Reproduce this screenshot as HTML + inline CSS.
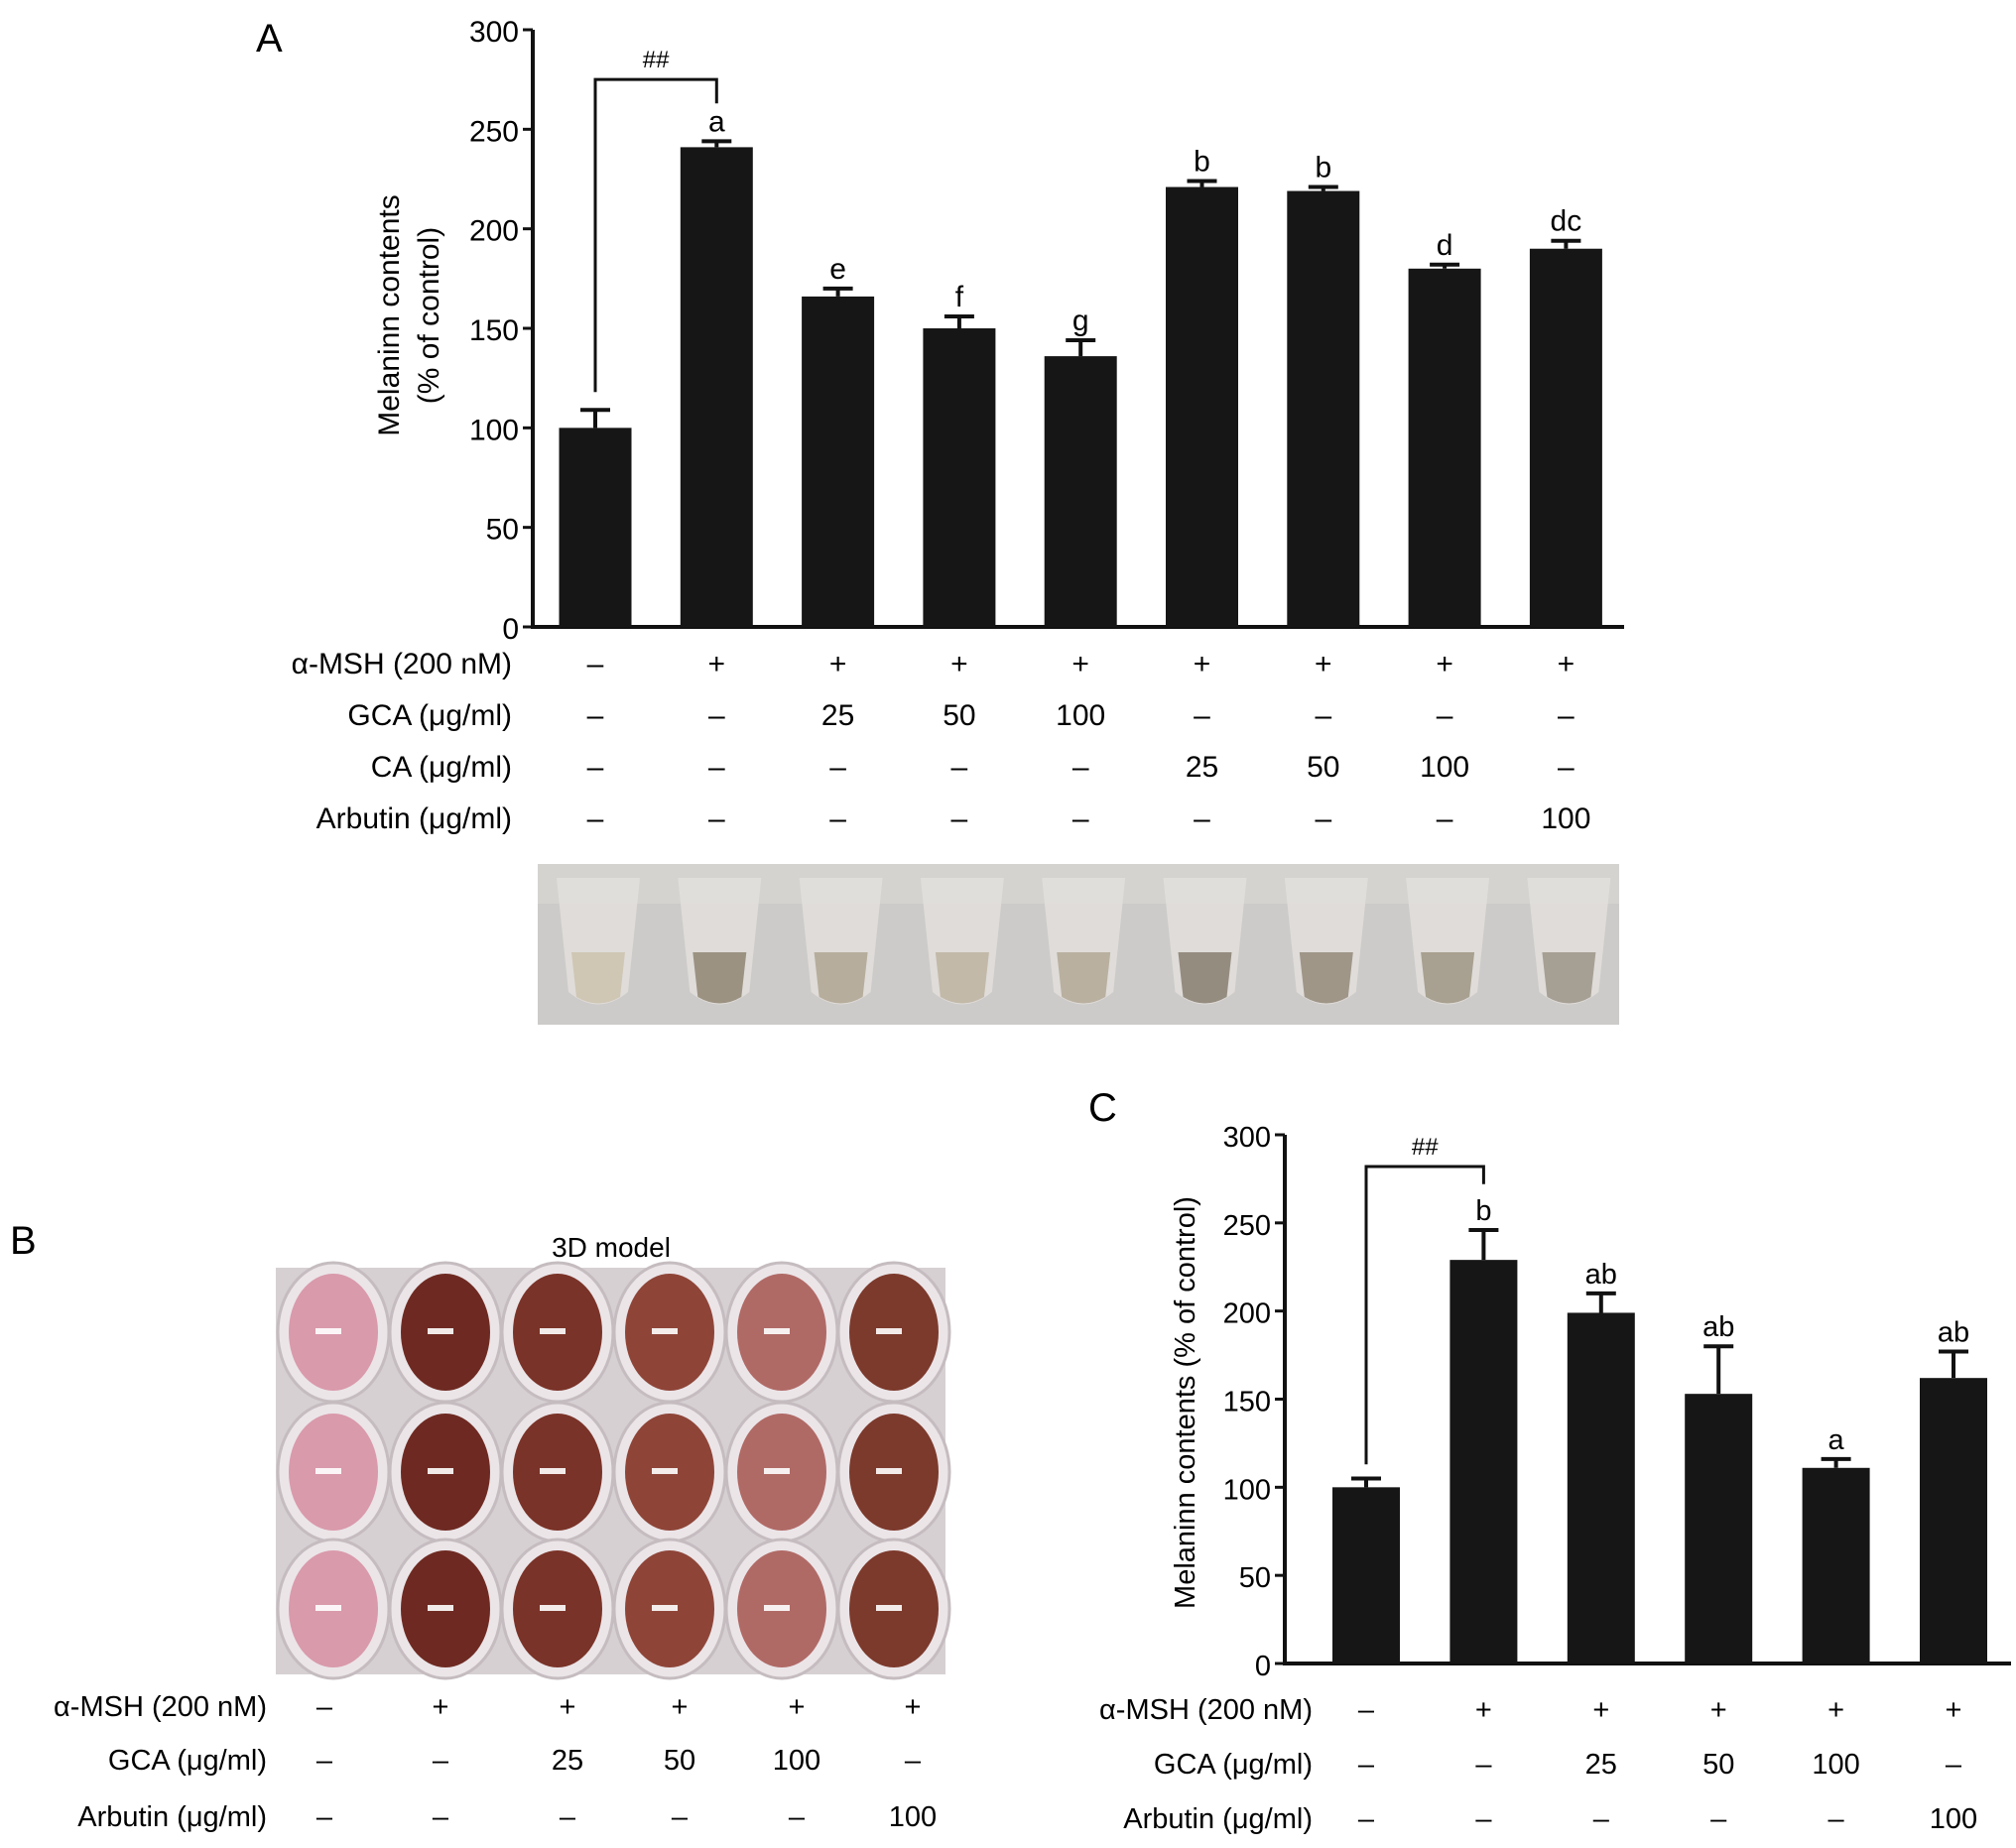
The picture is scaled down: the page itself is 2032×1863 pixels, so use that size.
<!DOCTYPE html>
<html><head><meta charset="utf-8"><style>
html,body{margin:0;padding:0;background:#fff;}
svg{display:block;font-family:"Liberation Sans",Arial,sans-serif;}
</style></head><body>
<svg id="fig" width="2032" height="1863" viewBox="0 0 2032 1863" xmlns="http://www.w3.org/2000/svg">
<g id="panelA"></g>
<g id="panelB"></g>
<g id="panelC"></g>
</svg>
<script>
// Panel A data
const aValues = [100, 241, 166, 150, 136, 221, 219, 180, 190];
const aErrors = [9, 3, 4, 6, 8, 3, 2, 2, 4];
const aLetters = ["", "a", "e", "f", "g", "b", "b", "d", "dc"];
const aTicks = [0, 50, 100, 150, 200, 250, 300];
const aRowLabels = ["\u03b1-MSH (200 nM)", "GCA (\u03bcg/ml)", "CA (\u03bcg/ml)", "Arbutin (\u03bcg/ml)"];
const aRows = [
  ["\u2013","+","+","+","+","+","+","+","+"],
  ["\u2013","\u2013","25","50","100","\u2013","\u2013","\u2013","\u2013"],
  ["\u2013","\u2013","\u2013","\u2013","\u2013","25","50","100","\u2013"],
  ["\u2013","\u2013","\u2013","\u2013","\u2013","\u2013","\u2013","\u2013","100"]
];
// Panel C data
const cValues = [100, 229, 199, 153, 111, 162];
const cErrors = [5, 17, 11, 27, 5, 15];
const cLetters = ["", "b", "ab", "ab", "a", "ab"];
const cTicks = [0, 50, 100, 150, 200, 250, 300];
const cRowLabels = ["\u03b1-MSH (200 nM)", "GCA (\u03bcg/ml)", "Arbutin (\u03bcg/ml)"];
const cRows = [
  ["\u2013","+","+","+","+","+"],
  ["\u2013","\u2013","25","50","100","\u2013"],
  ["\u2013","\u2013","\u2013","\u2013","\u2013","100"]
];
// Panel B table
const bRows = cRows;
const bWellColors = ["#d99aab", "#6e2a22", "#7a3328", "#8e4538", "#b06a66", "#7c3a2c"];

const NS = "http://www.w3.org/2000/svg";
function mk(parent, tag, attrs, text) {
  const e = document.createElementNS(NS, tag);
  for (const k in attrs) e.setAttribute(k, attrs[k]);
  if (text !== undefined) e.textContent = text;
  parent.appendChild(e);
  return e;
}

function drawChart(g, cfg) {
  const y = v => cfg.y0 - (v - 0) * (cfg.y0 - cfg.yTop) / 300;
  const x = i => cfg.x0c + i * cfg.step;
  const ax = mk(g, "path", {d: `M${cfg.axX},${cfg.yTop} V${cfg.y0} H${cfg.axEnd}`, fill: "none", stroke: "#111", "stroke-width": 4});
  
  
  cfg.ticks.forEach(t => {
    const tk = mk(g, "line", {x1: cfg.axX - 10, x2: cfg.axX, y1: y(t), y2: y(t), stroke: "#111", "stroke-width": 3});
    
    
    const tl = mk(g, "text", {x: cfg.axX - 14, y: y(t) + 12, "text-anchor": "end", "font-size": cfg.fs}, String(t));
    
    
  });
  cfg.values.forEach((v, i) => {
    const cx = x(i);
    const b = mk(g, "rect", {x: cx - cfg.bw / 2, y: y(v), width: cfg.bw, height: cfg.y0 - y(v), fill: "#161616"});
    
    
    const top = y(v + cfg.errors[i]);
    const eb = mk(g, "path", {d: `M${cx},${y(v)} V${top} M${cx - 15},${top} H${cx + 15}`, stroke: "#111", "stroke-width": 4, fill: "none"});
    
    
    if (cfg.letters[i]) {
      const lt = mk(g, "text", {x: cx, y: top - 10, "text-anchor": "middle", "font-size": cfg.fs}, cfg.letters[i]);
      
      
    }
  });
  const bl = x(0), br = x(1);
  const by = y(cfg.brTop);
  const bk = mk(g, "path", {d: `M${bl},${y(cfg.brLeft)} V${by} H${br} V${y(cfg.brRight)}`, stroke: "#111", "stroke-width": 3, fill: "none"});
  
  
  const hh = mk(g, "text", {x: (bl + br) / 2, y: by - 12, "text-anchor": "middle", "font-size": 24}, "##");
  
  
  return x;
}

function drawTable(g, labels, rows, labelRight, xs, rowY, fs) {
  labels.forEach((lab, r) => {
    const t = mk(g, "text", {x: labelRight, y: rowY[r] + 11, "text-anchor": "end", "font-size": fs}, lab);
    
    
    rows[r].forEach((val, i) => {
      const c = mk(g, "text", {x: xs(i), y: rowY[r] + 11, "text-anchor": "middle", "font-size": fs}, val);
      
      
    });
  });
}

// ---- Panel A ----
const gA = document.getElementById("panelA");
const lA = mk(gA, "text", {x: 258, y: 52, "font-size": 40}, "A");


const xA = drawChart(gA, {y0: 632, yTop: 30, axX: 537, axEnd: 1637, x0c: 600, step: 122.3, bw: 73,
  ticks: aTicks, values: aValues, errors: aErrors, letters: aLetters, fs: 30, brTop: 275, brLeft: 118, brRight: 263});
const ytA = mk(gA, "text", {transform: "translate(402,318) rotate(-90)", "text-anchor": "middle", "font-size": 30}, "Melaninn contents");


const ytA2 = mk(gA, "text", {transform: "translate(442,318) rotate(-90)", "text-anchor": "middle", "font-size": 30}, "(% of control)");


drawTable(gA, aRowLabels, aRows, 516, xA, [668, 720, 772, 824], 30);
const ph = mk(gA, "g", {});


mk(ph, "rect", {x: 542, y: 871, width: 1090, height: 162, fill: "#cdcbc9"});
mk(ph, "rect", {x: 542, y: 871, width: 1090, height: 40, fill: "#d9d6d3", opacity: 0.7});
const liqColors = ["#cfc6b4","#9c9282","#b7ad9c","#c2b9a8","#b9b0a0","#958c80","#9f9688","#a8a090","#a69f94"];
aValues.forEach((v, i) => {
  const cx = xA(i) + 3;
  const t = mk(ph, "path", {d: `M${cx-42},${885} H${cx+42} L${cx+30},${1000} Q${cx},${1025} ${cx-30},${1000} Z`, fill: "#e2dfdc", opacity: 0.85});
  
  
  mk(ph, "path", {d: `M${cx-27},${960} H${cx+27} L${cx+22},${1005} Q${cx},${1018} ${cx-22},${1005} Z`, fill: liqColors[i]});
});

// ---- Panel B ----
const gB = document.getElementById("panelB");
const lB = mk(gB, "text", {x: 10, y: 1264, "font-size": 40}, "B");


const tB = mk(gB, "text", {x: 616, y: 1267, "text-anchor": "middle", "font-size": 28}, "3D model");


const plate = mk(gB, "g", {});


mk(plate, "rect", {x: 278, y: 1278, width: 675, height: 410, fill: "#d6d0d3"});
const wellX = i => 336 + i * 113;
[1343, 1484, 1622].forEach(wy => {
  bWellColors.forEach((col, i) => {
    mk(plate, "ellipse", {cx: wellX(i), cy: wy, rx: 56, ry: 70, fill: "#ebe5e8", stroke: "#c5bcc0", "stroke-width": 3});
    const w = mk(plate, "ellipse", {cx: wellX(i), cy: wy, rx: 45, ry: 59, fill: col});
    
    
    mk(plate, "rect", {x: wellX(i) - 18, y: wy - 4, width: 26, height: 6, fill: "#fff", opacity: 0.9});
  });
});
const xB = i => [327, 444, 572, 685, 803, 920][i];
drawTable(gB, cRowLabels, bRows, 269, xB, [1719, 1773, 1830], 29);

// ---- Panel C ----
const gC = document.getElementById("panelC");
const lC = mk(gC, "text", {x: 1097, y: 1130, "font-size": 40}, "C");


const xC = drawChart(gC, {y0: 1677, yTop: 1144, axX: 1295, axEnd: 2027, x0c: 1377, step: 118.4, bw: 68,
  ticks: cTicks, values: cValues, errors: cErrors, letters: cLetters, fs: 29, brTop: 282, brLeft: 113, brRight: 272});
const ytC = mk(gC, "text", {transform: "translate(1204,1414) rotate(-90)", "text-anchor": "middle", "font-size": 29}, "Melaninn contents (% of control)");


drawTable(gC, cRowLabels, cRows, 1323, xC, [1722, 1777, 1832], 29);
</script>
</body></html>
